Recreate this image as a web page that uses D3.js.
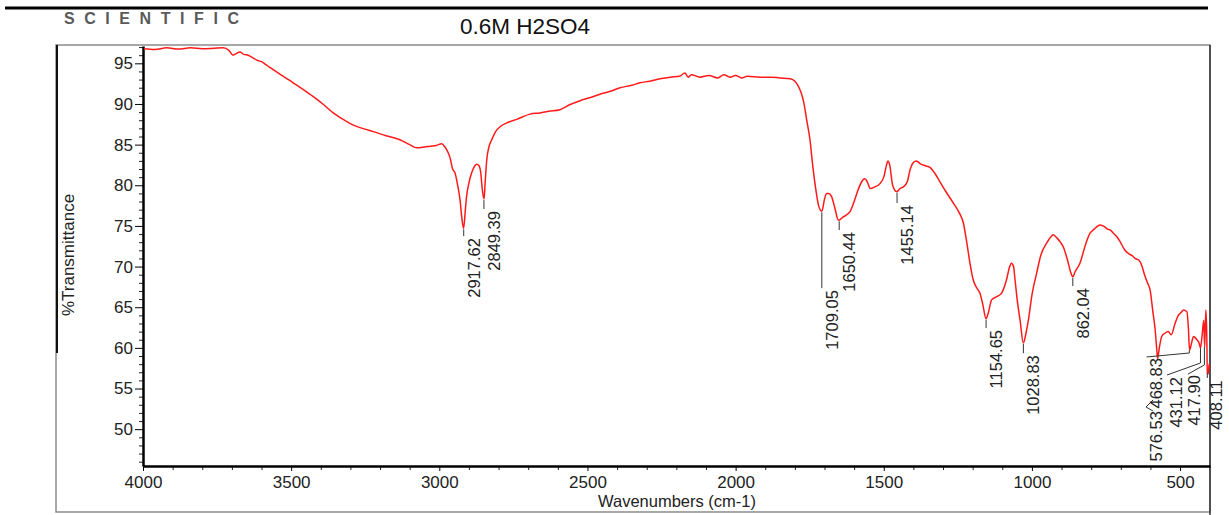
<!DOCTYPE html>
<html>
<head>
<meta charset="utf-8">
<script src="https://cdn.jsdelivr.net/npm/d3@7"></script>
<style>
    body { margin: 0; background: #fff; }
    text { font-family: "Liberation Sans", Arial, sans-serif; }
</style>
</head>
<body>
<div id="chart"></div>
<script>

// spectrum: wavenumber (cm-1) and %T
let wavenumbers = [4000, 3960, 3920, 3880, 3840, 3800, 3760, 3730, 3710, 3696, 3685, 3673, 3660, 3645, 3630, 3616, 3600, 3580, 3560, 3530,
    3493, 3460, 3425, 3390, 3358, 3320, 3290, 3260, 3223, 3180, 3133, 3100, 3076, 3050, 3031, 3010, 2992, 2981, 2970, 2964,
    2955, 2947, 2938, 2930, 2924, 2918, 2912, 2908, 2900, 2891, 2880, 2874, 2866, 2860, 2855, 2849, 2845, 2840, 2832, 2823,
    2810, 2795, 2770, 2739, 2694, 2660, 2630, 2593, 2560, 2525, 2490, 2458, 2420, 2390, 2350, 2323, 2290, 2255, 2220, 2190,
    2171, 2160, 2150, 2120, 2090, 2060, 2040, 2019, 2000, 1980, 1960, 1918, 1880, 1850, 1816, 1800, 1790, 1780, 1770, 1760,
    1749, 1740, 1729, 1720, 1709, 1700, 1693, 1685, 1676, 1665, 1653, 1637, 1614, 1600, 1591, 1575, 1565, 1555, 1546, 1530,
    1513, 1500, 1490, 1486, 1480, 1470, 1456, 1445, 1434, 1420, 1412, 1400, 1390, 1375, 1360, 1344, 1330, 1310, 1290, 1265,
    1245, 1231, 1220, 1209, 1198, 1185, 1175, 1165, 1155, 1148, 1136, 1119, 1103, 1086, 1075, 1069, 1062, 1058, 1050, 1040,
    1029, 1020, 1012, 1000, 984, 970, 950, 935, 928, 915, 904, 894, 880, 870, 862, 855, 838, 820, 804, 790,
    770, 755, 745, 736, 725, 714, 703, 686, 670, 660, 652, 640, 630, 620, 610, 601, 592, 584, 578, 576,
    570, 562, 551, 540, 530, 517, 506, 495, 489, 477, 472, 468, 460, 455, 443, 436, 431, 426, 420, 417,
    413, 410, 408, 405, 402, 399];

let transmittance = [96.8, 96.7, 96.9, 96.75, 96.9, 96.8, 96.85, 96.9, 96.6, 96.0, 96.2, 96.4, 96.1, 96.0, 95.7, 95.4, 95.2, 94.7, 94.2, 93.5,
    92.6, 91.8, 90.9, 89.9, 88.9, 88.0, 87.4, 87.0, 86.6, 86.1, 85.6, 85.0, 84.6, 84.7, 84.8, 84.9, 85.1, 84.7, 84.0, 83.4,
    82.0, 81.5, 80.0, 78.2, 76.0, 74.7, 77.0, 78.6, 80.3, 81.5, 82.4, 82.6, 82.4, 81.5, 79.5, 78.3, 80.5, 83.1, 84.8, 85.6,
    86.6, 87.2, 87.7, 88.1, 88.75, 88.9, 89.1, 89.3, 89.9, 90.4, 90.8, 91.2, 91.6, 92.0, 92.3, 92.6, 92.8, 93.1, 93.3, 93.4,
    93.8, 93.3, 93.6, 93.3, 93.5, 93.2, 93.6, 93.3, 93.5, 93.2, 93.4, 93.3, 93.3, 93.2, 93.1, 92.8, 92.3, 91.5, 90.2, 88.0,
    85.6, 82.5, 79.4, 77.5, 76.8, 78.3, 79.0, 79.0, 78.6, 77.2, 75.7, 76.1, 76.75, 78.0, 79.0, 80.4, 80.8, 80.4, 79.6, 79.8,
    80.2, 81.0, 82.6, 83.0, 82.5, 80.0, 79.2, 79.6, 79.8, 80.5, 81.8, 82.8, 83.0, 82.6, 82.4, 82.2, 81.6, 80.4, 79.2, 77.8,
    76.6, 75.3, 73.0, 70.4, 68.35, 67.3, 66.7, 65.2, 63.6, 64.2, 65.9, 66.3, 66.7, 68.35, 70.0, 70.4, 70.0, 68.75, 66.0, 63.4,
    60.6, 61.8, 63.4, 66.5, 69.2, 71.4, 72.9, 73.7, 73.9, 73.5, 73.0, 72.4, 70.8, 69.4, 68.75, 69.3, 70.4, 72.6, 74.1, 74.6,
    75.1, 74.9, 74.6, 74.5, 74.1, 73.7, 73.1, 72.0, 71.5, 71.3, 71.0, 70.8, 70.2, 69.0, 68.0, 67.1, 64.5, 62.2, 59.5, 58.7,
    60.0, 61.4, 61.8, 62.0, 61.6, 63.0, 64.0, 64.4, 64.65, 64.45, 62.5, 59.7, 60.8, 61.4, 61.0, 60.6, 60.0, 61.4, 63.4, 60.1,
    64.65, 61.8, 56.9, 56.8, 58.0, 57.5];

// peak picks
let peakLabels = ["2917.62", "2849.39", "1709.05", "1650.44", "1455.14", "1154.65", "1028.83", "862.04",
    "576.53", "468.83", "431.12", "417.90", "408.11"];
let peakT = [74.7, 78.3, 76.8, 75.7, 79.2, 63.6, 60.6, 68.75, 58.7, 59.7, 60.0, 60.1, 56.9];
// where each label sits (wavenumber of its column, %T at the top of its text)
let labelWn = [2917.62, 2849.39, 1709.05, 1650.44, 1455.14, 1154.65, 1028.83, 862.04, 615, 615, 547, 487, 412];
let labelTopT = [73.5, 76.83, 67.1, 74.25, 77.57, 62.2, 59.1, 67.36, 52.23, 58.75, 56.4, 56.65, 56.0];
// bent leaders for the crowded picks at the low end
let bentLeaders = {
    "576.53": [[591, 53.6], [615, 52.73], [591, 52.23]],
    "468.83": [[468.83, 59.7], [468.83, 59.37], [613, 58.88]],
    "431.12": [[431.12, 60.0], [431.12, 58.14], [544, 56.66]],
    "417.90": [[417.9, 60.1], [417.9, 57.9], [473, 56.78]],
    "408.11": [[408.11, 56.9], [408.11, 56.3]]
};

let yMajor = [50, 55, 60, 65, 70, 75, 80, 85, 90, 95];
let xMajor = [4000, 3500, 3000, 2500, 2000, 1500, 1000, 500];

let data = wavenumbers.map((w, i) => ({wn: w, t: transmittance[i]}));

let width = 1229, height = 515;
let svg = d3.select("#chart").append("svg")
    .attr("width", width)
    .attr("height", height);

let x = d3.scaleLinear().domain([4000, 399]).range([143, 1210]);
let y = d3.scaleLinear().domain([45.47, 97.13]).range([466, 46]);

// page furniture
svg.append("line")
    .attr("x1", 5).attr("x2", 1208).attr("y1", 8).attr("y2", 8)
    .attr("stroke", "#000").attr("stroke-width", 3);

svg.append("text")
    .attr("x", 64).attr("y", 24)
    .attr("textLength", 175).attr("lengthAdjust", "spacing")
    .attr("font-size", 16).attr("font-weight", "bold")
    .attr("fill", "#5a5a5a")
    .text("SCIENTIFIC");

svg.append("rect")
    .attr("x", 56).attr("y", 45)
    .attr("width", 1154).attr("height", 467)
    .attr("fill", "none").attr("stroke", "#8a8a8a").attr("stroke-width", 1.5);

svg.append("line")
    .attr("x1", 57).attr("x2", 57).attr("y1", 45).attr("y2", 353)
    .attr("stroke", "#111").attr("stroke-width", 2);

svg.append("line")
    .attr("x1", 1210).attr("x2", 1210).attr("y1", 45).attr("y2", 515)
    .attr("stroke", "#333").attr("stroke-width", 1.5);

svg.append("text")
    .attr("x", 525).attr("y", 34)
    .attr("text-anchor", "middle")
    .attr("font-size", 22.5).attr("fill", "#111")
    .text("0.6M H2SO4");

// axes
let yMinor = d3.range(46, 98).filter(v => v % 5 !== 0);
svg.append("g")
    .attr("transform", "translate(143,0)")
    .call(d3.axisLeft(y).tickValues(yMinor).tickSize(4).tickFormat(""))
    .call(g => g.select(".domain").remove())
    .selectAll("line").attr("stroke", "#222");

let yAxis = svg.append("g")
    .attr("transform", "translate(143,0)")
    .call(d3.axisLeft(y).tickValues(yMajor).tickSize(8).tickPadding(2).tickSizeOuter(0));
yAxis.select(".domain").attr("stroke", "#000").attr("stroke-width", 2.5);
yAxis.selectAll("text").attr("font-size", 17).attr("fill", "#222")
    .attr("font-family", "Liberation Sans, Arial, sans-serif");

let xMinor = d3.range(500, 4000, 100).filter(v => v % 500 !== 0);
svg.append("g")
    .attr("transform", "translate(0,466)")
    .call(d3.axisBottom(x).tickValues(xMinor).tickSize(4).tickFormat(""))
    .call(g => g.select(".domain").remove())
    .selectAll("line").attr("stroke", "#222");

let xAxis = svg.append("g")
    .attr("transform", "translate(0,466)")
    .call(d3.axisBottom(x).tickValues(xMajor).tickSize(5).tickPadding(5).tickSizeOuter(0).tickFormat(d3.format("d")));
xAxis.select(".domain").attr("stroke", "#000").attr("stroke-width", 2.5);
xAxis.selectAll("text").attr("font-size", 17).attr("fill", "#222")
    .attr("font-family", "Liberation Sans, Arial, sans-serif");

svg.append("text")
    .attr("x", 677).attr("y", 507)
    .attr("text-anchor", "middle")
    .attr("font-size", 16.5).attr("fill", "#222")
    .text("Wavenumbers (cm-1)");

svg.append("text")
    .attr("transform", "translate(74,255) rotate(-90)")
    .attr("text-anchor", "middle")
    .attr("font-size", 17).attr("fill", "#222")
    .text("%Transmittance");

// spectrum
svg.append("clipPath").attr("id", "plotClip")
    .append("rect").attr("x", 144).attr("y", 46).attr("width", 1066).attr("height", 420);

let line = d3.line()
    .x(d => x(d.wn))
    .y(d => y(d.t))
    .curve(d3.curveMonotoneX);

svg.append("path")
    .datum(data)
    .attr("clip-path", "url(#plotClip)")
    .attr("fill", "none")
    .attr("stroke", "#ff1a1a")
    .attr("stroke-width", 1.5)
    .attr("d", line);

// peak labels
let peaks = peakLabels.map((lab, i) => ({
    label: lab, wn: +lab, t: peakT[i], lwn: labelWn[i], ltop: labelTopT[i]
}));

let leaderLine = d3.line().x(p => x(p[0])).y(p => y(p[1]));

peaks.forEach(p => {
    if (bentLeaders[p.label]) {
        svg.append("path")
            .attr("d", leaderLine(bentLeaders[p.label]))
            .attr("fill", "none").attr("stroke", "#333").attr("stroke-width", 1);
    } else {
        svg.append("line")
            .attr("x1", x(p.wn)).attr("x2", x(p.wn))
            .attr("y1", y(p.t) + 1).attr("y2", y(p.ltop) - 2)
            .attr("stroke", "#333").attr("stroke-width", 1);
    }
    svg.append("text")
        .attr("transform", `translate(${x(p.lwn) + 16},${y(p.ltop)}) rotate(-90)`)
        .attr("text-anchor", "end")
        .attr("font-size", 16.5).attr("fill", "#222")
        .text(p.label);
});

</script>
</body>
</html>
